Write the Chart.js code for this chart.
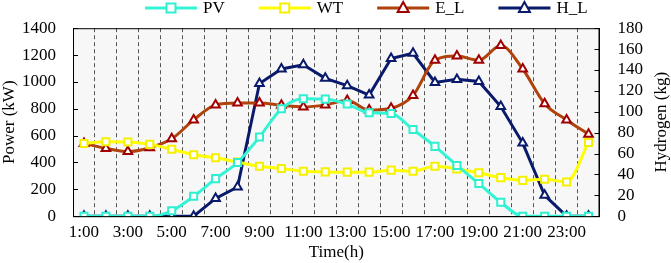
<!DOCTYPE html>
<html>
<head>
<meta charset="utf-8">
<script src="https://cdn.jsdelivr.net/npm/chart.js@4/dist/chart.umd.min.js"></script>
<style>
  html, body { margin: 0; padding: 0; background: #fff; }
  #wrap { width: 671px; height: 263px; }
</style>
</head>
<body>
<div id="wrap"><canvas id="chart" width="671" height="263"></canvas></div>
<script>
// 시간 (1:00 ~ 24:00)
const hours = ['1:00','2:00','3:00','4:00','5:00','6:00','7:00','8:00','9:00','10:00','11:00','12:00',
               '13:00','14:00','15:00','16:00','17:00','18:00','19:00','20:00','21:00','22:00','23:00','24:00'];

// 출력 (kW)
const pvData = [0, 0, 0, 0, 40, 148, 280, 400, 590, 800, 875, 872, 835, 770, 765, 645, 520, 378, 243, 104, 0, 0, 0, 0];
const wtData = [542, 554, 552, 535, 498, 457, 435, 403, 372, 355, 335, 330, 328, 328, 343, 335, 372, 352, 323, 287, 267, 275, 255, 549];
const elData = [542, 505, 481, 510, 576, 717, 829, 843, 843, 826, 814, 829, 862, 790, 804, 899, 1161, 1193, 1161, 1271, 1096, 838, 717, 610];

// 수소 (kg)
const hlData = [0, 0, 0, 0, 0, 0, 17, 28, 127, 141, 145, 132, 125, 116, 151, 156, 128, 131, 129, 105, 70, 20, 0, 0];

const serif = "'Liberation Serif', 'Times New Roman', serif";
const leftTitle = 'Power (kW)';
const rightTitle = 'Hydrogen (kg)';

// 세로 축 제목 (아래에서 위로)
function drawVTitle(ctx, text, x, y) {
    ctx.save();
    ctx.translate(x, y);
    ctx.rotate(-Math.PI / 2);
    ctx.fillStyle = '#000';
    ctx.font = '17px ' + serif;
    ctx.textAlign = 'center';
    ctx.textBaseline = 'middle';
    ctx.fillText(text, 0, 0);
    ctx.restore();
}

// 플롯 배경, 테두리, 안쪽 눈금, 축 제목
const framePlugin = {
    id: 'frame',
    beforeDraw(chart) {
        const { ctx, chartArea: a } = chart;
        ctx.save();
        ctx.fillStyle = '#f7f7f7';
        ctx.fillRect(a.left, a.top, a.right - a.left, a.bottom - a.top);
        ctx.restore();
    },
    afterDraw(chart) {
        const { ctx, chartArea: a } = chart;
        ctx.save();
        ctx.strokeStyle = '#000';
        ctx.lineWidth = 1;
        ctx.strokeRect(a.left + 0.5, a.top + 0.5, a.right - a.left - 1, a.bottom - a.top);
        const y = chart.scales.y, y1 = chart.scales.y1;
        ctx.beginPath();
        y.ticks.forEach(t => {
            const p = Math.round(y.getPixelForValue(t.value)) + 0.5;
            ctx.moveTo(a.left, p); ctx.lineTo(a.left + 5, p);
        });
        y1.ticks.forEach(t => {
            const p = Math.round(y1.getPixelForValue(t.value)) + 0.5;
            ctx.moveTo(a.right - 5, p); ctx.lineTo(a.right, p);
        });
        ctx.stroke();
        ctx.restore();

        const mid = (a.top + a.bottom) / 2;
        drawVTitle(ctx, leftTitle, 10, mid);
        drawVTitle(ctx, rightTitle, chart.width - 9, mid);
    }
};

// 선 + 마커 범례
const legendPlugin = {
    id: 'lineLegend',
    afterDraw(chart) {
        const { ctx, chartArea: a } = chart;
        const lineLen = 52, gap = 34, yc = 8;
        let x = a.left + 72;
        ctx.save();
        ctx.font = '17px ' + serif;
        ctx.textBaseline = 'middle';
        chart.data.datasets.forEach(ds => {
            ctx.strokeStyle = ds.borderColor;
            ctx.lineWidth = 3;
            ctx.beginPath();
            ctx.moveTo(x, yc); ctx.lineTo(x + lineLen, yc);
            ctx.stroke();
            const mx = x + lineLen / 2;
            ctx.fillStyle = '#fff';
            ctx.strokeStyle = ds.pointBorderColor;
            ctx.lineWidth = 2;
            ctx.beginPath();
            if (ds.pointStyle === 'rect') {
                ctx.rect(mx - 4.5, yc - 4.5, 9, 9);
            } else {
                ctx.moveTo(mx, yc - 6);
                ctx.lineTo(mx + 5.5, yc + 4);
                ctx.lineTo(mx - 5.5, yc + 4);
                ctx.closePath();
            }
            ctx.fill();
            ctx.stroke();
            ctx.fillStyle = '#000';
            ctx.fillText(ds.label, x + lineLen + 6, yc + 1);
            x += lineLen + 6 + ctx.measureText(ds.label).width + gap;
        });
        ctx.restore();
    }
};

const ctx = document.getElementById('chart').getContext('2d');

new Chart(ctx, {
    type: 'line',
    data: {
        labels: hours,
        datasets: [
            {
                label: 'PV', data: pvData, yAxisID: 'y',
                borderColor: '#33f5d5', pointBorderColor: '#2ef0d0',
                pointStyle: 'rect', cubicInterpolationMode: 'monotone'
            },
            {
                label: 'WT', data: wtData, yAxisID: 'y',
                borderColor: '#ffff00', pointBorderColor: '#f5f000',
                pointStyle: 'rect', cubicInterpolationMode: 'monotone'
            },
            {
                label: 'E_L', data: elData, yAxisID: 'y',
                borderColor: '#b0420c', pointBorderColor: '#a00000',
                pointStyle: 'triangle', cubicInterpolationMode: 'monotone'
            },
            {
                label: 'H_L', data: hlData, yAxisID: 'y1',
                borderColor: '#0a1a6b', pointBorderColor: '#0a1a6b',
                pointStyle: 'triangle', tension: 0
            }
        ]
    },
    options: {
        responsive: false,
        animation: false,
        // 축 제목은 플러그인으로 그리므로 그 자리를 여백으로 확보
        layout: { padding: { top: 7, left: 5, right: 10, bottom: 0 } },
        elements: {
            line: { borderWidth: 3 },
            point: { radius: 5, borderWidth: 2, backgroundColor: '#fff' }
        },
        plugins: {
            legend: { display: false },
            tooltip: { enabled: false }
        },
        scales: {
            x: {
                offset: true,
                grid: { offset: true, color: '#555', lineWidth: 1, drawTicks: false },
                border: { display: true, color: '#000', dash: [4, 3] },
                ticks: {
                    autoSkip: false, maxRotation: 0, padding: 6, color: '#000',
                    font: { family: serif, size: 17 },
                    callback: function (v, i) { return i % 2 === 0 ? this.getLabelForValue(v) : ''; }
                },
                title: { display: true, text: 'Time(h)', color: '#000', padding: { top: -6, bottom: 0 }, font: { family: serif, size: 17 } }
            },
            y: {
                position: 'left', min: 0, max: 1400,
                grid: { display: false, drawTicks: false },
                border: { display: true, color: '#000' },
                ticks: {
                    stepSize: 200, padding: 17, color: '#000', autoSkip: false,
                    font: { family: serif, size: 17 },
                    callback: v => String(v)
                },
                title: { display: false }
            },
            y1: {
                position: 'right', min: 0, max: 180,
                grid: { display: false, drawTicks: false },
                border: { display: true, color: '#000' },
                ticks: {
                    stepSize: 20, padding: 18, color: '#000', autoSkip: false,
                    font: { family: serif, size: 17 },
                    callback: v => String(v)
                },
                title: { display: false }
            }
        }
    },
    plugins: [framePlugin, legendPlugin]
});
</script>
</body>
</html>
